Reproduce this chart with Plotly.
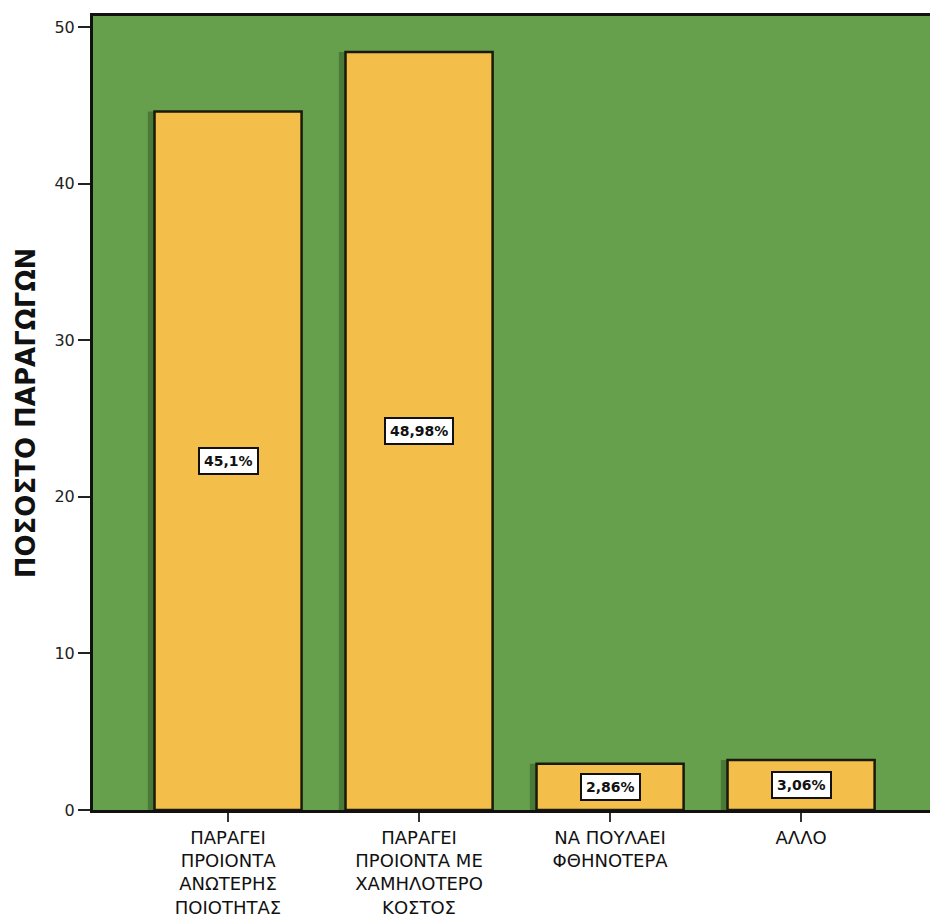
import plotly.graph_objects as go

categories = [
    "ΠΑΡΑΓΕΙ<br>ΠΡΟΙΟΝΤΑ<br>ΑΝΩΤΕΡΗΣ<br>ΠΟΙΟΤΗΤΑΣ",
    "ΠΑΡΑΓΕΙ<br>ΠΡΟΙΟΝΤΑ ΜΕ<br>ΧΑΜΗΛΟΤΕΡΟ<br>ΚΟΣΤΟΣ",
    "ΝΑ ΠΟΥΛΑΕΙ<br>ΦΘΗΝΟΤΕΡΑ",
    "ΑΛΛΟ",
]
# bar heights as drawn in the picture
values = [44.6, 48.4, 2.95, 3.2]
# label texts printed on the bars
labels = ["45,1%", "48,98%", "2,86%", "3,06%"]
y_ticks = [0, 10, 20, 30, 40, 50]

GREEN = "#67a04c"
SHADOW = "#4a7a38"
YELLOW = "#f3bf4a"
FONT = "DejaVu Sans, Liberation Sans, Arial"

fig = go.Figure()
# subtle darker-green shadow to the left of each bar
fig.add_trace(go.Bar(
    x=categories, y=values,
    width=0.77, offset=-0.385 - 0.035,
    marker=dict(color=SHADOW, line=dict(width=0)),
    hoverinfo="skip",
))
fig.add_trace(go.Bar(
    x=categories, y=values,
    width=0.77, offset=-0.385,
    marker=dict(color=YELLOW, line=dict(color="#1a1a0a", width=2.5)),
    hoverinfo="skip",
))

for c, v, t in zip(categories, values, labels):
    fig.add_annotation(
        x=c, y=v / 2, text=f"<b>{t}</b>", showarrow=False,
        font=dict(family=FONT, size=14, color="#111"),
        bgcolor="white", bordercolor="#111", borderwidth=2, borderpad=4,
    )

fig.update_layout(
    width=930, height=919,
    margin=dict(l=93, r=0, t=16, b=109, autoexpand=False),
    paper_bgcolor="white",
    plot_bgcolor=GREEN,
    barmode="overlay",
    showlegend=False,
    font=dict(family=FONT, color="#111"),
    xaxis=dict(
        range=[-0.707, 3.675],
        automargin=False,
        showgrid=False, zeroline=False,
        showline=True, linecolor="#111", linewidth=3, mirror=True,
        ticks="outside", ticklen=9, tickwidth=2, tickcolor="#333",
        tickfont=dict(size=18, family=FONT, color="#111"),
    ),
    yaxis=dict(
        range=[0, 50.7],
        automargin=False,
        tickvals=y_ticks,
        showgrid=False, zeroline=False,
        showline=True, linecolor="#111", linewidth=3,
        ticks="outside", ticklen=12, tickwidth=2, tickcolor="#222",
        tickfont=dict(size=16, family=FONT, color="#222"),
        title=dict(text="<b>ΠΟΣΟΣΤΟ ΠΑΡΑΓΩΓΩΝ</b>",
                   font=dict(size=26, family=FONT, color="#111"),
                   standoff=12),
    ),
)

fig.write_html(
    "out.html",
    config={"displayModeBar": False},
    post_script="document.body.style.margin='0';document.body.style.overflow='hidden';",
)
